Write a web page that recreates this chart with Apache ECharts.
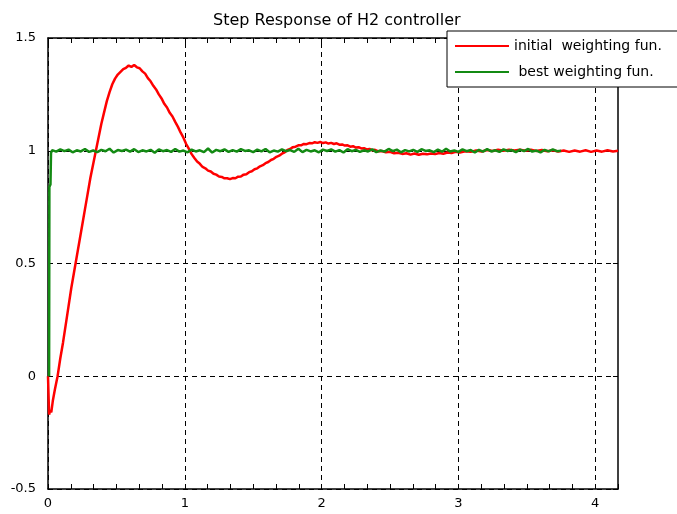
<!DOCTYPE html>
<html>
<head>
<meta charset="utf-8">
<script src="https://cdn.jsdelivr.net/npm/echarts@6/dist/echarts.min.js"></script>
<style>
  html, body { margin: 0; padding: 0; background: #fff; }
  #chart { width: 677px; height: 514px; }
</style>
</head>
<body>
<div id="chart"></div>
<script>
// Step response with the initial weighting function: [time (s), output]
const initialResponse = [
  [0.000, 0.000], [0.008, -0.170], [0.016, -0.150], [0.024, -0.160], [0.035, -0.110],
  [0.050, -0.060], [0.070, 0.000], [0.090, 0.080], [0.110, 0.150], [0.130, 0.230],
  [0.150, 0.310], [0.170, 0.390], [0.190, 0.460], [0.210, 0.530], [0.230, 0.600],
  [0.250, 0.670], [0.270, 0.740], [0.290, 0.810], [0.310, 0.880], [0.330, 0.940],
  [0.350, 1.000], [0.370, 1.060], [0.390, 1.120], [0.410, 1.170], [0.430, 1.220],
  [0.450, 1.260], [0.470, 1.295], [0.490, 1.320], [0.510, 1.338], [0.530, 1.350],
  [0.550, 1.362], [0.570, 1.368], [0.590, 1.378], [0.610, 1.372], [0.630, 1.380],
  [0.650, 1.370], [0.670, 1.366], [0.690, 1.352], [0.710, 1.342], [0.730, 1.322],
  [0.750, 1.308], [0.770, 1.288], [0.790, 1.272], [0.810, 1.250], [0.830, 1.232],
  [0.850, 1.208], [0.870, 1.192], [0.890, 1.168], [0.910, 1.152], [0.930, 1.128],
  [0.950, 1.106], [0.970, 1.080], [0.990, 1.058], [1.010, 1.030], [1.030, 1.008],
  [1.050, 0.985], [1.070, 0.968], [1.090, 0.952], [1.110, 0.942], [1.130, 0.928],
  [1.150, 0.922], [1.170, 0.912], [1.190, 0.908], [1.210, 0.898], [1.230, 0.894],
  [1.250, 0.886], [1.270, 0.884], [1.290, 0.878], [1.310, 0.878], [1.330, 0.874],
  [1.350, 0.879], [1.370, 0.878], [1.390, 0.885], [1.410, 0.886], [1.430, 0.894],
  [1.450, 0.896], [1.470, 0.905], [1.490, 0.909], [1.510, 0.918], [1.530, 0.922],
  [1.550, 0.931], [1.570, 0.936], [1.590, 0.945], [1.610, 0.950], [1.630, 0.959],
  [1.650, 0.964], [1.670, 0.973], [1.690, 0.978], [1.710, 0.987], [1.730, 0.993],
  [1.750, 1.004], [1.770, 1.008], [1.790, 1.016], [1.810, 1.018], [1.830, 1.024],
  [1.850, 1.024], [1.870, 1.030], [1.890, 1.029], [1.910, 1.034], [1.930, 1.033],
  [1.950, 1.038], [1.970, 1.035], [1.990, 1.039], [2.010, 1.034], [2.030, 1.037],
  [2.050, 1.032], [2.070, 1.035], [2.090, 1.030], [2.110, 1.033], [2.130, 1.027],
  [2.150, 1.028], [2.170, 1.023], [2.190, 1.024], [2.210, 1.018], [2.230, 1.020],
  [2.250, 1.014], [2.270, 1.016], [2.290, 1.010], [2.310, 1.011], [2.330, 1.006],
  [2.350, 1.008], [2.370, 1.002], [2.390, 1.004], [2.410, 0.998], [2.440, 0.999],
  [2.470, 0.993], [2.500, 0.995], [2.530, 0.989], [2.560, 0.991], [2.590, 0.986],
  [2.620, 0.989], [2.650, 0.983], [2.680, 0.988], [2.710, 0.982], [2.740, 0.987],
  [2.770, 0.984], [2.800, 0.988], [2.830, 0.985], [2.860, 0.990], [2.890, 0.987],
  [2.920, 0.992], [2.950, 0.990], [2.980, 0.995], [3.010, 0.992], [3.050, 0.998],
  [3.090, 0.995], [3.130, 1.001], [3.170, 0.997], [3.210, 1.003], [3.250, 0.999],
  [3.290, 1.004], [3.330, 1.000], [3.370, 1.005], [3.410, 1.001], [3.450, 1.005],
  [3.490, 1.000], [3.530, 1.004], [3.570, 0.999], [3.610, 1.003], [3.650, 0.998],
  [3.690, 1.002], [3.730, 0.997], [3.770, 1.001], [3.810, 0.995], [3.850, 1.001],
  [3.890, 0.996], [3.930, 1.002], [3.970, 0.995], [4.010, 1.001], [4.050, 0.996],
  [4.090, 1.002], [4.130, 0.997], [4.167, 1.000]
];

// Step response with the best weighting function: the initial rise ...
const bestRise = [[0.008, 0.000], [0.010, 0.840], [0.018, 0.850], [0.022, 0.990]];
// ... then the settled, noisy output sampled every bestStep seconds from bestStart
const bestStart = 0.030;
const bestStep = 0.030;
const bestSettled = [
  1.003, 0.996, 1.006, 0.998, 1.005, 0.993, 1.002, 0.997, 1.008, 0.995,
  1.001, 0.994, 1.004, 0.998, 1.009, 0.992, 1.003, 0.999, 1.005, 0.996,
  1.007, 0.994, 1.002, 0.997, 1.004, 0.991, 1.006, 0.998, 1.003, 0.995,
  1.008, 0.996, 1.001, 0.993, 1.005, 0.997, 1.002, 0.994, 1.010, 0.992,
  1.004, 0.998, 1.006, 0.995, 1.003, 0.996, 1.007, 0.999, 1.002, 0.994,
  1.005, 0.997, 1.008, 0.993, 1.001, 0.996, 1.006, 0.998, 1.003, 0.995,
  1.009, 0.994, 1.004, 0.997, 1.002, 0.993, 1.005, 0.999, 1.006, 0.996,
  1.003, 0.992, 1.007, 0.998, 1.004, 0.995, 1.002, 0.997, 1.006, 0.994,
  1.001, 0.996, 1.008, 0.998, 1.005, 0.993, 1.003, 0.997, 1.004, 0.995,
  1.007, 0.999, 1.002, 0.994, 1.005, 0.996, 1.009, 0.997, 1.001, 0.995,
  1.006, 0.998, 1.003, 0.992, 1.004, 0.996, 1.007, 0.997, 1.002, 0.995,
  1.006, 0.999, 1.003, 0.994, 1.005, 0.998, 1.008, 0.996, 1.001, 0.993,
  1.004, 0.997, 1.006, 0.998, 1.000
];

// Axis ranges and tick values
const xRange = [0, 25 / 6];
const yRange = [-0.5, 1.5];
const yTickStep = 0.5;
const xMinorStep = 1 / 6;
const xGridValues = [0, 1, 2, 3, 4];

const titleText = 'Step Response of H2 controller';
const seriesNames = ['initial  weighting fun.', ' best weighting fun.'];

const bestResponse = bestRise.concat(
  bestSettled.map((v, i) => [+(bestStart + i * bestStep).toFixed(3), v])
);

const FONT = 'DejaVu Sans';
const dashStyle = { color: '#000', width: 1, type: [5, 4] };
const solidLine = { show: true, onZero: false, lineStyle: { color: '#000', width: 1.5 } };
const innerTick = { show: true, inside: true, length: 5, lineStyle: { color: '#000', width: 1 } };

const chart = echarts.init(document.getElementById('chart'), null, { renderer: 'canvas' });
chart.setOption({
  animation: false,
  backgroundColor: '#fff',
  title: {
    text: titleText,
    left: 208, top: 8,
    textStyle: { fontFamily: FONT, fontSize: 16, fontWeight: 'normal', color: '#000' }
  },
  legend: {
    orient: 'vertical',
    left: 447, top: 31,
    padding: [7, 40, 7, 8],
    itemGap: 10,
    itemWidth: 54, itemHeight: 2,
    icon: 'rect',
    backgroundColor: '#fff',
    borderColor: '#000', borderWidth: 1,
    textStyle: { fontFamily: FONT, fontSize: 14, lineHeight: 16, color: '#000' },
    data: seriesNames
  },
  grid: { left: 48, right: 59, top: 38, bottom: 25, containLabel: false },
  xAxis: [
    {
      type: 'value', position: 'bottom', min: xRange[0], max: xRange[1], interval: xMinorStep,
      axisLine: solidLine, axisTick: innerTick, splitLine: { show: false },
      axisLabel: {
        margin: 8, fontFamily: FONT, fontSize: 13, color: '#000', hideOverlap: false,
        formatter: v => Math.abs(v - Math.round(v)) < 1e-6 ? String(Math.round(v)) : ''
      }
    },
    {
      type: 'value', position: 'top', min: xRange[0], max: xRange[1], interval: xMinorStep,
      axisLine: solidLine, axisTick: innerTick, axisLabel: { show: false }, splitLine: { show: false }
    }
  ],
  yAxis: [
    {
      type: 'value', position: 'left', min: yRange[0], max: yRange[1], interval: yTickStep,
      axisLine: solidLine, axisTick: innerTick,
      splitLine: { show: true, lineStyle: dashStyle },
      axisLabel: { margin: 12, fontFamily: FONT, fontSize: 13, color: '#000' }
    },
    {
      type: 'value', position: 'right', min: yRange[0], max: yRange[1], interval: yTickStep,
      axisLine: solidLine, axisTick: innerTick, axisLabel: { show: false }, splitLine: { show: false }
    }
  ],
  series: [
    {
      name: seriesNames[0], type: 'line', data: initialResponse,
      xAxisIndex: 0, yAxisIndex: 0, z: 3,
      symbol: 'none', showSymbol: false, smooth: false,
      lineStyle: { color: '#ff0000', width: 2.5 }, itemStyle: { color: '#ff0000' },
      // vertical dashed grid lines at the whole seconds
      markLine: {
        silent: true, symbol: ['none', 'none'], z: 1,
        label: { show: false },
        lineStyle: dashStyle,
        emphasis: { disabled: true },
        data: xGridValues.map(v => ({ xAxis: v }))
      }
    },
    {
      name: seriesNames[1], type: 'line', data: bestResponse,
      xAxisIndex: 0, yAxisIndex: 0, z: 4,
      symbol: 'none', showSymbol: false, smooth: false,
      lineStyle: { color: '#138a13', width: 2.5 }, itemStyle: { color: '#138a13' }
    }
  ]
});
</script>
</body>
</html>
